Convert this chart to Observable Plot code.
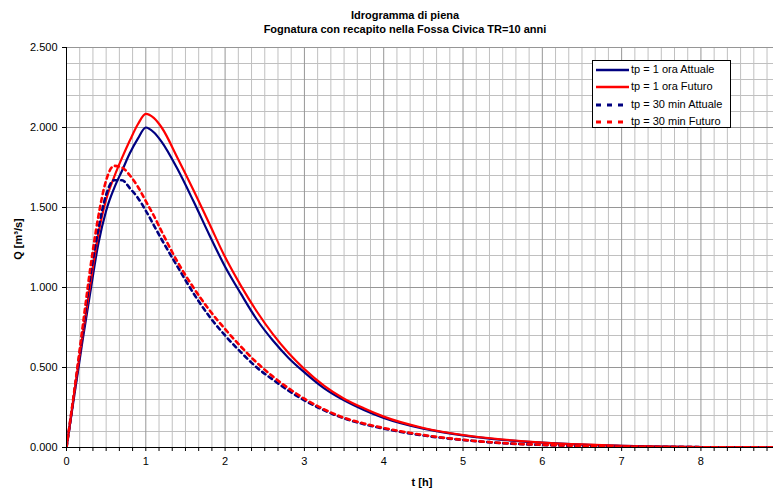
<!DOCTYPE html>
<html><head><meta charset="utf-8">
<script src="https://cdn.jsdelivr.net/npm/d3@7"></script>
<script src="https://cdn.jsdelivr.net/npm/@observablehq/plot@0.6"></script>
<style>
html,body{margin:0;padding:0;background:#fff;overflow:hidden;}
#wrap{position:relative;width:773px;height:489px;font-family:"Liberation Sans",Arial,sans-serif;color:#000;}
.t{position:absolute;font-weight:bold;font-size:11px;white-space:nowrap;}
#legend{position:absolute;left:592px;top:60px;width:137px;height:66px;border:1px solid #000;background:#fff;font-size:11px;}
#legend .row{position:absolute;left:3px;height:14px;line-height:14px;white-space:nowrap;}
#legend svg{vertical-align:middle;}
</style></head>
<body><div id="wrap"></div>
<script>
// ---- data ----
const tHours = [0,0.1,0.2,0.3,0.4,0.5,0.6,0.7,0.8,0.9,1.0,1.1,1.2,1.4,1.6,1.8,2.0,2.2,2.4,2.6,2.8,3.0,3.25,3.5,3.75,4.0,4.5,5.0,5.5,6.0,6.5,7.0,7.5,8.0,8.5,9.0];
const q1hAttuale = [0,0.33,0.66,0.97,1.27,1.48,1.62,1.73,1.84,1.93,2.0,1.97,1.91,1.74,1.54,1.33,1.13,0.96,0.80,0.67,0.56,0.47,0.37,0.295,0.235,0.185,0.118,0.076,0.048,0.03,0.018,0.011,0.006,0.003,0.002,0.001];
const q1hFuturo = [0,0.35,0.69,1.02,1.33,1.55,1.69,1.81,1.92,2.02,2.085,2.06,2.0,1.81,1.61,1.40,1.19,1.01,0.85,0.71,0.59,0.49,0.385,0.305,0.245,0.193,0.122,0.078,0.05,0.031,0.019,0.011,0.006,0.003,0.002,0.001];
const q30Attuale = [0,0.35,0.71,1.07,1.36,1.58,1.67,1.67,1.62,1.56,1.48,1.39,1.30,1.13,0.965,0.82,0.70,0.595,0.50,0.425,0.355,0.295,0.232,0.182,0.146,0.118,0.075,0.047,0.027,0.016,0.009,0.005,0.003,0.002,0.001,0.0005];
const q30Futuro = [0,0.36,0.74,1.12,1.44,1.67,1.76,1.75,1.70,1.63,1.54,1.45,1.35,1.16,1.0,0.86,0.74,0.63,0.53,0.445,0.37,0.305,0.238,0.186,0.15,0.122,0.078,0.048,0.028,0.017,0.01,0.006,0.003,0.002,0.001,0.0005];
const seriesNames = ["tp = 1 ora Attuale","tp = 1 ora Futuro","tp = 30 min Attuale","tp = 30 min Futuro"];
const xTicks = [0,1,2,3,4,5,6,7,8];
const yTicks = [0,0.5,1.0,1.5,2.0,2.5];
const title1 = "Idrogramma di piena";
const title2 = "Fognatura con recapito nella Fossa Civica TR=10 anni";
const xLabel = "t [h]";
const yLabel = "Q [m³/s]";

// ---- styles ----
const styles = [
  {stroke:"#000080", dash:null, w:2.2},
  {stroke:"#ff0000", dash:null, w:2.2},
  {stroke:"#000080", dash:"4,4", w:2.6},
  {stroke:"#ff0000", dash:"4,4", w:2.6}
];
const allSeries = [q1hAttuale,q1hFuturo,q30Attuale,q30Futuro];

const xMinor = d3.range(0, 54).map(i => i/6).filter(v => Math.abs(v - Math.round(v)) > 1e-6);
const xMajor = d3.range(0, 10);
const yMinor = d3.range(0, 26).map(i => +(i/10).toFixed(1)).filter(v => Math.abs(v*2 - Math.round(v*2)) > 1e-6);

const lineMarks = allSeries.map((arr, k) => Plot.line(tHours.map((t,i)=>({t, q: arr[i]})), {
  x:"t", y:"q", stroke: styles[k].stroke, strokeWidth: styles[k].w,
  strokeDasharray: styles[k].dash || undefined, curve:"monotone-x", clip:true
}));

const chart = Plot.plot({
  width: 773, height: 489,
  marginLeft: 66, marginRight: 0, marginTop: 47, marginBottom: 42,
  style: {fontFamily:"Liberation Sans, Arial, sans-serif", fontSize:"11px", color:"#000", background:"#fff", overflow:"visible"},
  x: {domain:[0, 8.915], label:null},
  y: {domain:[0, 2.5], label:null},
  marks: [
    Plot.ruleX(xMinor, {stroke:"#c0c0c0", strokeWidth:1}),
    Plot.ruleY(yMinor, {stroke:"#c0c0c0", strokeWidth:1}),
    Plot.ruleX(xMajor.filter(v=>v>0), {stroke:"#969696", strokeWidth:1, clip:true}),
    Plot.ruleY(yTicks.filter(v=>v>0), {stroke:"#969696", strokeWidth:1}),
    Plot.axisX({ticks: xMinor, tickSize:4, tickFormat:()=>"", stroke:"#000"}),
    Plot.axisX({ticks: xTicks, tickSize:4, tickPadding:6, tickFormat:d=>String(d), fontSize:11}),
    Plot.axisY({ticks: yTicks, tickSize:4, tickPadding:5, tickFormat:d3.format(".3f"), fontSize:11}),
    ...lineMarks,
    Plot.ruleX([0], {stroke:"#000", strokeWidth:1}),
    Plot.ruleY([0], {stroke:"#000", strokeWidth:1})
  ]
});

const wrap = document.getElementById("wrap");
chart.style.position = "absolute";
chart.style.left = "0px";
chart.style.top = "0px";
wrap.appendChild(chart);

function addText(txt, css) {
  const d = document.createElement("div");
  d.className = "t";
  d.textContent = txt;
  Object.assign(d.style, css);
  wrap.appendChild(d);
  return d;
}
addText(title1, {left:"0px", width:"810px", textAlign:"center", top:"9px"});
addText(title2, {left:"0px", width:"810px", textAlign:"center", top:"23px"});
addText(xLabel, {left:"322px", width:"200px", textAlign:"center", top:"476px"});
addText(yLabel, {left:"-82px", width:"200px", textAlign:"center", top:"233px", transform:"rotate(-90deg)"});

// legend
const leg = document.createElement("div");
leg.id = "legend";
const rowTops = [1, 18, 35.5, 53];
seriesNames.forEach((name, k) => {
  const r = document.createElement("div");
  r.className = "row";
  r.style.top = rowTops[k] + "px";
  const s = styles[k];
  r.innerHTML = `<svg width="33" height="14"><line x1="0" x2="33" y1="7" y2="7" stroke="${s.stroke}" stroke-width="${s.dash ? 3 : 2.4}" ${s.dash ? 'stroke-dasharray="5,6"' : ''}/></svg><span style="margin-left:2px">${name}</span>`;
  leg.appendChild(r);
});
wrap.appendChild(leg);
</script>
</body></html>
